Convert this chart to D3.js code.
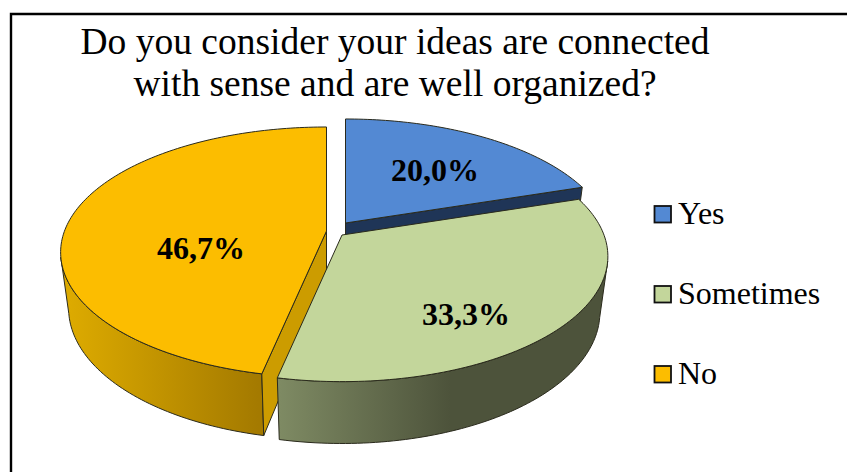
<!DOCTYPE html>
<html>
<head>
<meta charset="utf-8">
<script src="https://cdn.jsdelivr.net/npm/d3@7"></script>
<style>
html,body{margin:0;padding:0;background:#fff;}
svg{display:block;}
text{font-family:"Liberation Serif","Times New Roman",serif;fill:#000;}
</style>
</head>
<body>
<svg id="chart" width="847" height="472"></svg>
<script>
// Survey answers
const categories = ["Yes", "Sometimes", "No"];
const shares = [20.0, 33.3, 46.7];
const valueLabels = ["20,0%", "33,3%", "46,7%"];
const titleLines = ["Do you consider your ideas are connected", "with sense and are well organized?"];

// Slice styling
const topColors = ["#5389d3", "#c3d69b", "#fcbd00"];
const faceColors = ["#1f3557", "#4f533c", "#cc9c00"];
const wallStops = [
  ["#3a5f93", "#2a4569"],
  ["#7e8a63", "#4d533b"],
  ["#dcaa00", "#a47a00"]
];
const wallStopX = [[340, 580], [280, 450], [70, 258]];

// Exploded position of each slice, and where its label sits
const apexes = [[345.5, 223], [342, 235], [326.5, 231]];
const labelSpots = [[435, 170], [466, 314], [201, 248]];

// Tilted-disc projection
const radius = 262, tilt = 0.4645, perspective = 0.17, depth = 55, baseShrink = 0.97;

function project(angle, apex, lower) {
  const u = radius * Math.sin(angle);
  const v = -radius * Math.cos(angle);
  const s = 1 / (1 - (v / radius) * perspective);
  const k = lower ? baseShrink : 1;
  return [
    apex[0] + u * s * k,
    apex[1] + v * tilt * s * k + (lower ? depth * s : 0)
  ];
}

function rim(a0, a1, apex, lower) {
  const n = Math.max(2, Math.ceil(Math.abs(a1 - a0) / 0.02));
  return d3.range(n + 1).map(i => project(a0 + (a1 - a0) * i / n, apex, lower));
}

const svg = d3.select("#chart");
const line = d3.line();
const rad = d => d * Math.PI / 180;

// Frame: only the top and left rules lie inside the page
svg.append("path")
  .attr("d", "M11,472V14H847")
  .attr("fill", "none").attr("stroke", "#000").attr("stroke-width", 2.4);

// Title
svg.append("g").selectAll("text").data(titleLines).join("text")
  .attr("x", 395).attr("y", (d, i) => 54 + i * 42)
  .attr("text-anchor", "middle").attr("font-size", 37.5)
  .text(d => d);

const slices = d3.pie().sort(null).value(d => d)(shares)
  .map((d, i) => ({...d, i, apex: apexes[i]}));

const defs = svg.append("defs");
slices.forEach(d => {
  const g = defs.append("linearGradient").attr("id", "wall" + d.i)
    .attr("gradientUnits", "userSpaceOnUse")
    .attr("x1", wallStopX[d.i][0]).attr("x2", wallStopX[d.i][1])
    .attr("y1", 0).attr("y2", 0);
  g.append("stop").attr("offset", 0).attr("stop-color", wallStops[d.i][0]);
  g.append("stop").attr("offset", 1).attr("stop-color", wallStops[d.i][1]);
});

const pieLayer = svg.append("g")
  .attr("stroke", "#2a2a1c").attr("stroke-width", 1).attr("stroke-linejoin", "round");

// Far slice first, then the left slice, and the green one lying over both cut faces
[0, 2, 1].forEach(idx => {
  const d = slices[idx];
  const a = d.apex;
  const g = pieLayer.append("g");

  // Outer wall: the rim between the disc's left and right silhouette points
  const from = Math.max(d.startAngle, rad(102));
  const to = Math.min(d.endAngle, rad(258));
  if (to > from) {
    const pts = rim(from, to, a, false).concat(rim(to, from, a, true));
    g.append("path").attr("d", line(pts) + "Z").attr("fill", `url(#wall${d.i})`);
  }

  // Cut face turned towards the viewer
  const faceAngle = d.endAngle < Math.PI ? d.endAngle : (d.startAngle > Math.PI ? d.startAngle : null);
  if (faceAngle !== null) {
    const lowApex = [a[0], a[1] + depth];
    const pts = [a, project(faceAngle, a, false), project(faceAngle, a, true), lowApex];
    g.append("path").attr("d", line(pts) + "Z").attr("fill", faceColors[d.i]);
  }

  // Top surface
  const top = [a].concat(rim(d.startAngle, d.endAngle, a, false));
  g.append("path").attr("d", line(top) + "Z").attr("fill", topColors[d.i]);
});

// Value labels
svg.append("g").selectAll("text").data(valueLabels).join("text")
  .attr("x", (d, i) => labelSpots[i][0])
  .attr("y", (d, i) => labelSpots[i][1])
  .attr("dy", "0.35em")
  .attr("text-anchor", "middle").attr("font-size", 32).attr("font-weight", "bold")
  .text(d => d);

// Legend
const legendY = d3.scalePoint().domain(categories).range([214, 374]);
const legend = svg.append("g").selectAll("g").data(categories).join("g")
  .attr("transform", d => `translate(0,${legendY(d)})`);
legend.append("rect")
  .attr("x", 654.5).attr("y", -8).attr("width", 16.5).attr("height", 16.5)
  .attr("fill", (d, i) => topColors[i])
  .attr("stroke", "#111").attr("stroke-width", 1.8);
legend.append("text")
  .attr("x", 678).attr("y", 9.5).attr("font-size", 32)
  .text(d => d);
</script>
</body>
</html>
